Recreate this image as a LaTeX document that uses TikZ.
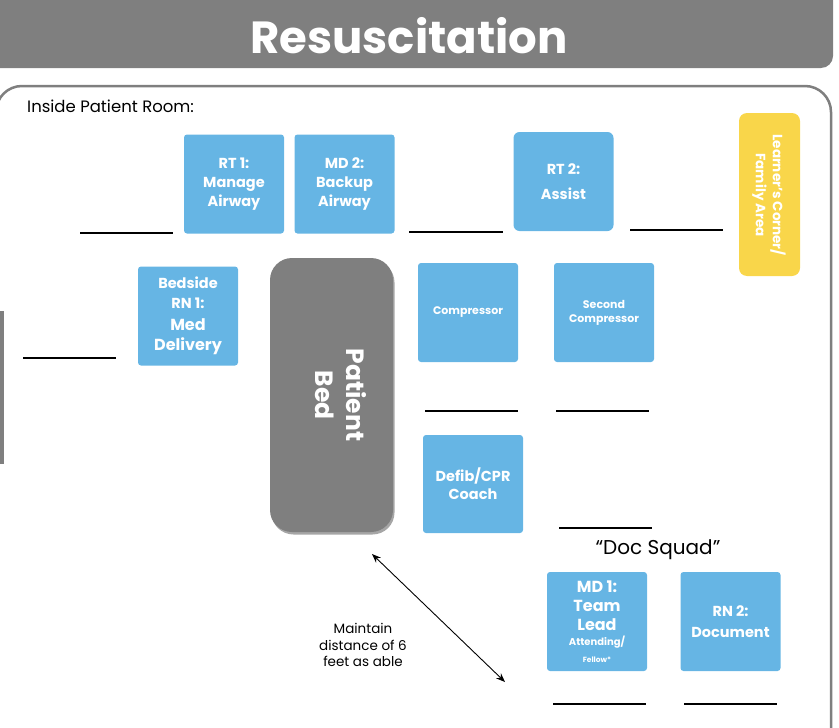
\documentclass[tikz,border=0pt]{standalone}
\usepackage{fontspec}
\setmainfont{Poppins}
\usetikzlibrary{arrows.meta,shadows}
\definecolor{titlegray}{RGB}{127,127,127}
\definecolor{boxblue}{RGB}{102,181,228}
\definecolor{cornyellow}{RGB}{249,214,74}
\newcommand{\fsz}[2]{\fontsize{#1}{#2}\selectfont}
\tikzset{
  rolebox/.style={fill=boxblue, draw=none, rounded corners=3pt, text=white, font=\bfseries,
    align=center, inner sep=0pt, minimum width=100pt, minimum height=99pt},
  blank/.style={line width=2.2pt, black},
  plain/.style={text=black, align=center, inner sep=0pt}
}
\begin{document}
\begin{tikzpicture}[x=1pt,y=-1pt]
\useasboundingbox (0,0) rectangle (839,728);
% title bar
\fill[titlegray, rounded corners=12pt] (-30,-30) rectangle (833,68);
\node[text=white, font=\bfseries\fsz{45}{50}, inner sep=0pt] (title) at (409,36) {Resuscitation};
% room frame
\draw[titlegray, line width=2.5pt, rounded corners=26pt] (-4,86) rectangle (831,760);
\fill[titlegray] (0,311) rectangle (4,464);
\node[plain, anchor=west, font=\fsz{16.5}{20}] (room) at (27,106) {Inside Patient Room:};
% top row
\node[rolebox, font=\bfseries\fsz{14.5}{19}] (rt1) at (234,184) {RT 1:\\Manage\\Airway};
\node[rolebox, font=\bfseries\fsz{14.5}{19}] (md2) at (344.5,184) {MD 2:\\Backup\\Airway};
\node[rolebox, rounded corners=6pt, font=\bfseries\fsz{14.5}{25}] (rt2) at (563.5,181.5) {RT 2:\\Assist};
\draw[blank] (80,233) -- (173,233);
\draw[blank] (409,232) -- (503,232);
\draw[blank] (630,230) -- (723,230);
% learner corner
\node[fill=cornyellow, rounded corners=8pt, minimum width=61pt, minimum height=163pt, inner sep=0pt] (learner) at (769.5,194.5) {};
\node[text=white, font=\bfseries\fsz{13.5}{17}, rotate=-90, align=center, inner sep=0pt] (learnertxt) at (769,195) {Learner's Corner/\\Family Area};
% left
\node[rolebox, font=\bfseries\fsz{14.5}{20}] (rn1) at (188,316) {Bedside\\RN 1:\\[2pt]{\fsz{16}{20}Med}\\{\fsz{16}{20}Delivery}};
\draw[blank] (23,358) -- (116,358);
% bed
\node[fill=titlegray, rounded corners=22pt, minimum width=123pt, minimum height=274pt, inner sep=0pt,
  drop shadow={opacity=0.35, shadow xshift=1.5pt, shadow yshift=-2.5pt, fill=black}] (bed) at (331.5,395) {};
\node[text=white, font=\bfseries\fsz{25}{31}, rotate=-90, align=center, inner sep=0pt] (bedtxt) at (341,395) {Patient\\Bed};
% compressors
\node[rolebox, font=\bfseries\fsz{11}{14}] (comp) at (468,312.5) {Compressor};
\node[rolebox, font=\bfseries\fsz{11}{14}] (comp2) at (604,312.5) {Second\\Compressor};
\draw[blank] (425,411) -- (518,411);
\draw[blank] (556,411) -- (649,411);
\node[rolebox, minimum height=98pt, font=\bfseries\fsz{14.5}{18}] (defib) at (473,484) {Defib/CPR\\Coach};
\draw[blank] (559,528) -- (652,528);
% doc squad
\node[plain, font=\fsz{20}{24}] (doc) at (658,550) {“Doc Squad”};
\node[rolebox, font=\bfseries\fsz{16}{19}] (md1) at (597,621.5) {MD 1:\\Team\\Lead\\[-4pt]{\fsz{10}{12}Attending/}\\[-2pt]{\fsz{7.5}{10}Fellow*}};
\node[rolebox, font=\bfseries\fsz{14.5}{21}] (rn2) at (730.5,621.5) {RN 2:\\Document};
\draw[blank] (553,704) -- (646,704);
\draw[blank] (684,704) -- (777,704);
% distance arrow
\coordinate (a1) at (372,554);
\coordinate (a2) at (505,682);
\draw[{Stealth[length=9pt,width=7pt]}-{Stealth[length=9pt,width=7pt]}, line width=0.9pt] (a1) -- (a2);
\node[plain, font=\fsz{13.5}{16.5}] (maintain) at (363,645) {Maintain\\distance of 6\\feet as able};
\end{tikzpicture}
\end{document}
